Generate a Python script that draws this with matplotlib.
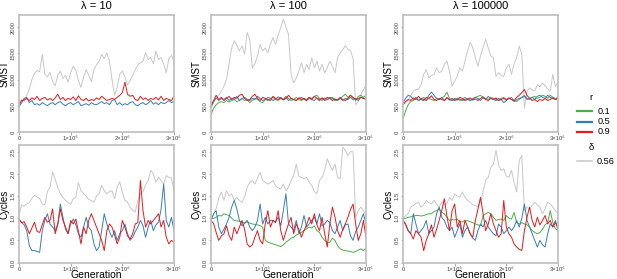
import numpy as np
import matplotlib
matplotlib.use("Agg")
import matplotlib.pyplot as plt
from matplotlib.lines import Line2D

plt.rcParams['font.family'] = ['Liberation Sans', 'DejaVu Sans']

generation = np.arange(0, 3_000_001, 50_000)
lambdas = ["10", "100", "100000"]

# ---- SMST, lambda = 10 ----
smst_l10_grey = [560,620,580,700,820,1000,1120,1170,1150,1480,1100,1050,1140,960,880,1080,1160,1020,1080,950,
                 1130,1250,1180,980,850,1050,1190,1080,960,1190,1280,1350,1480,1400,1510,1350,1000,700,850,1100,
                 1160,1050,900,980,1080,1180,1280,1320,1350,1510,1380,1420,1300,1540,1380,1420,1300,1130,1400,1460,1360]
smst_l10_red = [520,600,610,640,600,650,620,680,600,640,660,610,640,600,650,720,620,660,600,640,
                620,670,600,690,620,600,640,590,620,600,650,620,680,640,600,620,640,620,660,700,
                750,950,720,680,700,620,600,680,620,650,600,640,620,660,610,680,600,640,620,600,680]
smst_l10_blue = [480,560,640,660,560,600,520,540,510,560,530,500,540,560,520,560,580,530,500,540,
                 560,520,550,580,500,520,540,510,560,530,520,550,580,540,560,520,600,620,520,560,
                 510,540,520,560,580,520,500,540,560,520,550,600,530,560,520,570,540,560,600,560,580]

# ---- Cycles, lambda = 10 ----
cyc_l10_grey = [1.06,1.30,1.27,1.32,1.35,1.45,1.52,1.48,1.44,1.32,1.30,1.60,1.70,2.04,1.88,1.70,1.55,1.47,1.40,1.35,
                1.32,1.44,1.47,1.80,1.62,1.55,1.50,1.42,1.40,1.36,1.50,1.55,1.74,1.62,1.55,1.60,1.62,1.44,1.70,1.82,
                1.59,1.40,1.36,1.25,1.18,1.14,1.40,1.55,1.60,1.75,1.85,2.08,2.00,1.81,1.92,1.85,1.77,1.96,1.92,1.90,1.62]
cyc_l10_red = [0.98,0.90,0.92,0.80,0.65,0.78,0.91,0.70,0.68,0.85,1.02,0.91,0.95,1.21,0.65,0.85,1.21,0.95,0.80,0.65,
               0.95,0.87,0.98,0.70,0.42,0.80,0.65,0.95,1.10,0.95,0.80,0.65,0.50,0.27,0.72,0.87,0.80,0.62,0.42,0.57,
               0.95,0.80,0.60,0.53,0.65,0.87,0.90,1.85,1.17,0.80,0.95,0.87,0.95,1.02,1.10,0.80,0.95,0.57,0.42,0.50,0.46]
cyc_l10_blue = [0.98,0.90,0.85,0.72,0.38,0.27,0.27,0.25,0.23,0.72,0.95,1.10,0.87,0.80,0.72,0.87,1.32,1.02,0.75,0.65,
                0.87,0.98,0.85,0.65,0.57,0.80,1.02,0.80,0.72,0.42,0.27,0.35,0.72,1.10,0.87,0.70,0.57,0.72,0.50,0.65,
                0.72,0.87,0.65,0.50,0.57,0.70,0.80,0.95,0.83,0.57,0.80,0.95,0.72,0.85,0.91,1.20,1.77,0.95,0.80,1.02,0.72]

# ---- SMST, lambda = 100 ----
smst_l100_grey = [455,560,640,700,780,870,1000,1300,1600,1740,1650,1545,1640,1480,1900,1760,1225,1300,1450,1670,
                  1545,1600,1510,1670,1800,1670,1850,1990,2150,2000,1860,1100,935,1030,1160,1320,1130,1290,1190,1415,
                  1225,1350,1160,1290,1130,1225,1350,1250,1130,1415,1510,1575,1640,1580,1550,1400,520,583,710,800,900]
smst_l100_green = [330,450,520,560,580,560,600,570,600,620,580,600,640,600,620,560,600,640,620,580,
                   560,620,600,640,660,620,600,640,620,680,640,600,620,660,620,600,640,620,660,640,
                   680,700,640,600,650,620,640,660,620,600,640,680,720,660,700,640,600,680,700,660,700]
smst_l100_blue = [480,580,650,600,640,620,660,600,640,620,680,600,640,660,620,600,640,620,680,640,
                  600,620,660,640,600,630,670,640,620,660,600,640,620,600,640,660,620,600,640,620,
                  600,650,620,640,600,620,660,640,600,620,640,600,640,620,660,620,640,600,660,640,620]
smst_l100_red = [500,600,700,620,660,600,640,680,620,660,640,700,720,640,600,620,680,720,640,600,
                 660,640,620,600,680,640,620,660,610,640,700,640,620,600,650,620,640,600,660,620,
                 680,640,600,650,620,660,640,600,630,610,660,620,600,640,700,660,620,640,660,640,650]

# ---- Cycles, lambda = 100 ----
cyc_l100_grey = [0.98,1.10,1.22,1.45,1.59,1.40,1.62,1.50,1.55,1.40,1.47,1.40,1.36,1.47,1.70,1.81,1.85,1.77,1.90,2.04,
                 1.85,1.81,1.77,1.80,1.85,1.74,1.68,1.66,1.77,1.62,1.70,1.85,1.96,2.22,1.95,1.92,1.89,1.92,1.81,1.74,
                 1.60,1.55,1.85,1.92,2.08,2.34,2.20,2.08,2.22,1.92,1.89,2.60,2.53,2.41,2.50,2.50,1.02,1.17,1.25,1.17,1.06]
cyc_l100_green = [0.98,1.00,1.02,1.06,1.05,1.10,1.08,1.06,1.00,0.95,0.94,0.93,0.91,0.90,0.92,0.89,0.87,0.86,0.85,0.83,
                  0.80,0.50,0.46,0.44,0.42,0.40,0.38,0.36,0.40,0.46,0.50,0.55,0.57,0.62,0.65,0.68,0.72,0.76,0.80,0.78,
                  0.83,0.72,0.68,0.57,0.50,0.45,0.46,0.55,0.50,0.38,0.31,0.28,0.27,0.26,0.25,0.23,0.25,0.28,0.31,0.27,0.33]
cyc_l100_blue = [0.95,1.10,1.17,0.80,0.65,0.75,0.87,1.02,1.25,1.40,1.21,0.95,0.83,0.88,0.95,0.80,0.72,0.80,0.95,1.32,
                 0.87,1.02,0.87,0.95,0.95,0.92,1.02,0.83,1.17,1.55,0.87,0.80,0.72,0.95,0.65,0.80,1.06,0.80,0.87,0.95,
                 1.02,0.87,1.10,0.83,0.87,0.95,0.90,0.72,0.65,0.80,0.95,0.72,0.85,0.87,0.60,0.50,0.70,0.80,0.95,1.10,0.87]
cyc_l100_red = [0.95,0.88,0.68,0.50,0.60,0.65,0.83,0.61,0.50,0.80,0.65,0.80,0.95,0.75,0.42,0.35,0.40,0.57,0.72,0.50,
                0.42,0.87,1.17,0.80,0.95,0.90,1.17,0.72,0.50,0.70,0.87,1.02,0.65,0.87,0.75,0.57,0.72,0.85,1.02,0.87,
                1.10,0.85,0.72,1.02,0.65,0.35,0.87,1.25,1.02,0.72,0.57,0.75,0.87,1.02,1.20,1.32,0.87,0.50,0.65,0.95,0.57]

# ---- SMST, lambda = 100000 ----
smst_l1e5_grey = [520,560,610,700,780,810,815,900,1100,1190,1030,1080,1100,1225,1130,1160,1290,1350,1160,870,
                  970,1060,1225,1160,1350,1545,1705,1610,1415,1255,1450,1610,1770,1600,1450,1415,1060,1130,1080,1060,
                  1225,1290,1100,1300,1415,1640,1480,455,775,840,800,780,900,860,935,880,820,780,1100,870,950]
smst_l1e5_green = [250,400,520,580,600,640,600,620,660,600,640,620,600,640,620,650,680,760,640,600,
                   620,640,600,620,660,620,600,640,660,680,700,660,640,620,660,640,620,600,640,660,
                   620,640,660,600,580,620,660,700,640,620,660,680,640,660,700,680,640,700,660,640,660]
smst_l1e5_blue = [560,640,700,680,620,660,600,640,620,600,700,760,700,640,620,660,600,640,620,600,
                  640,610,630,600,620,640,600,620,660,640,600,650,620,680,640,620,600,640,620,560,
                  600,640,620,580,620,640,660,680,620,640,660,620,680,700,660,640,700,660,640,620,640]
smst_l1e5_red = [520,580,620,600,650,620,680,620,600,660,640,690,620,600,640,620,600,660,610,640,
                 600,620,660,640,600,620,650,610,630,600,640,670,620,600,640,620,650,600,620,640,
                 610,650,620,600,660,700,750,810,700,640,600,620,580,620,600,640,600,620,650,620,640]

# ---- Cycles, lambda = 100000 ----
cyc_l1e5_grey = [0.98,1.06,1.10,1.25,1.29,1.33,1.36,1.25,1.30,1.40,1.35,1.32,1.40,1.32,1.25,1.36,1.30,1.32,1.47,1.40,
                 1.55,1.50,1.47,1.59,1.47,1.40,1.36,1.30,1.29,1.25,1.36,1.60,1.85,1.92,2.15,2.22,2.53,2.20,2.08,2.11,
                 1.95,1.92,2.08,1.81,1.59,2.30,2.41,1.17,1.25,1.20,1.29,1.36,1.30,1.25,1.10,1.21,1.36,1.32,1.25,1.17,1.10]
cyc_l1e5_green = [0.98,1.00,1.02,1.03,1.05,1.06,1.06,1.05,1.06,1.08,1.10,1.10,1.15,1.17,1.21,1.13,1.10,1.02,0.95,0.97,
                  0.96,0.98,0.91,0.92,0.95,0.94,0.92,0.90,0.87,0.85,0.83,1.06,1.10,1.13,1.10,1.02,0.95,0.97,0.98,0.95,
                  1.06,1.00,0.98,1.13,0.90,0.87,0.90,0.87,0.85,0.80,0.72,0.68,0.65,0.68,0.75,0.85,0.90,1.17,0.90,0.76,0.72]
cyc_l1e5_blue = [0.95,0.85,0.72,0.65,1.10,0.87,0.65,0.72,0.80,0.95,0.65,0.72,0.80,1.10,1.25,1.02,0.95,0.80,0.72,0.80,
                 0.57,0.72,0.87,0.57,0.72,0.80,0.65,0.55,0.50,0.72,0.87,0.80,0.95,0.80,0.72,0.65,0.60,0.87,0.80,0.65,
                 0.72,0.80,0.72,0.80,0.95,0.80,1.00,1.32,0.95,0.80,0.65,0.50,0.35,0.50,0.40,0.35,0.65,0.87,0.80,0.95,0.72]
cyc_l1e5_red = [0.95,0.87,0.72,0.65,0.53,0.72,0.65,0.57,0.27,0.50,0.65,0.85,0.57,0.75,0.95,1.17,1.44,1.05,0.72,1.17,
                1.32,0.80,0.95,0.65,0.95,0.80,0.65,0.57,0.95,1.20,1.47,1.10,0.72,0.87,1.10,0.87,0.72,0.57,0.65,1.40,
                0.80,0.65,0.57,0.42,0.35,0.30,0.27,0.72,1.02,1.25,0.95,0.80,1.02,0.85,0.95,1.06,0.87,0.95,0.80,0.90,0.80]

GREY = "#c8c8c8"
GREEN = "#4daf4a"
BLUE = "#377eb8"
RED = "#e41a1c"
FRAME = "#bdbdbd"
LW = 0.7

smst_sets = [
    [(smst_l10_grey, GREY), (smst_l10_blue, BLUE), (smst_l10_red, RED)],
    [(smst_l100_grey, GREY), (smst_l100_green, GREEN), (smst_l100_blue, BLUE), (smst_l100_red, RED)],
    [(smst_l1e5_grey, GREY), (smst_l1e5_green, GREEN), (smst_l1e5_blue, BLUE), (smst_l1e5_red, RED)],
]
cyc_sets = [
    [(cyc_l10_grey, GREY), (cyc_l10_blue, BLUE), (cyc_l10_red, RED)],
    [(cyc_l100_grey, GREY), (cyc_l100_green, GREEN), (cyc_l100_blue, BLUE), (cyc_l100_red, RED)],
    [(cyc_l1e5_grey, GREY), (cyc_l1e5_green, GREEN), (cyc_l1e5_blue, BLUE), (cyc_l1e5_red, RED)],
]

W, H = 617, 279
fig = plt.figure(figsize=(W / 100, H / 100), dpi=100)

lefts = [19, 211, 403]
width = 155
rows = [(15, 132), (145, 263)]

xticks = [0, 1_000_000, 2_000_000, 3_000_000]
xticklabels = ["0", "1×10⁶", "2×10⁶", "3×10⁶"]


def fx(px):
    return px / W


def fy(py):
    return 1 - py / H


def style(ax, yticks, yticklabels, ylim):
    ax.set_xlim(0, 3_000_000)
    ax.set_ylim(*ylim)
    for s in ax.spines.values():
        s.set_color(FRAME)
        s.set_linewidth(1.2)
    ax.set_xticks(xticks)
    ax.set_xticklabels(xticklabels, fontsize=4.2, color="#444444")
    ax.set_yticks(yticks)
    ax.set_yticklabels(yticklabels, fontsize=4.2, color="#444444", rotation=90, va="center")
    ax.tick_params(axis="both", length=1.8, width=0.5, color="#888888", pad=0.8)


for c in range(3):
    L = lefts[c]
    # top
    t, b = rows[0]
    ax = fig.add_axes([fx(L), fy(b), width / W, (b - t) / H])
    for series, col in smst_sets[c]:
        ax.plot(generation, series, color=col, lw=LW)
    style(ax, [0, 500, 1000, 1500, 2000], ["0", "500", "1000", "1500", "2000"], (0, 2230))
    fig.text(fx(L - 14.5), fy((t + b) / 2), "SMST", fontsize=7, rotation=90,
             ha="center", va="center")
    fig.text(fx(L + width / 2), fy(6), "λ = " + lambdas[c], fontsize=8,
             ha="center", va="center")
    # bottom
    t, b = rows[1]
    ax2 = fig.add_axes([fx(L), fy(b), width / W, (b - t) / H])
    for series, col in cyc_sets[c]:
        ax2.plot(generation, series, color=col, lw=LW)
    style(ax2, [0, 0.5, 1.0, 1.5, 2.0, 2.5], ["0.0", "0.5", "1.0", "1.5", "2.0", "2.5"], (-0.01, 2.65))
    fig.text(fx(L - 14.5), fy((t + b) / 2), "Cycles", fontsize=7, rotation=90,
             ha="center", va="center")
    fig.text(fx(L + width / 2), fy(275.5), "Generation", fontsize=7.5,
             ha="center", va="center")

# legend
fig.text(fx(591), fy(97), "r", fontsize=6.8, ha="center", va="center")
r_labels = ["0.1", "0.5", "0.9"]
r_cols = [GREEN, BLUE, RED]
for i, (lab, col) in enumerate(zip(r_labels, r_cols)):
    y = fy(111 + 10.5 * i)
    fig.add_artist(Line2D([fx(577), fx(592)], [y, y], color=col, lw=1.6))
    fig.text(fx(598), y, lab, fontsize=6.6, va="center", ha="left")
fig.text(fx(591), fy(147), "δ", fontsize=6.8, ha="center", va="center")
y = fy(161)
fig.add_artist(Line2D([fx(577), fx(592)], [y, y], color=GREY, lw=1.1))
fig.text(fx(597), y, "0.56", fontsize=6.6, va="center", ha="left")

fig.savefig("out.png", dpi=100)
